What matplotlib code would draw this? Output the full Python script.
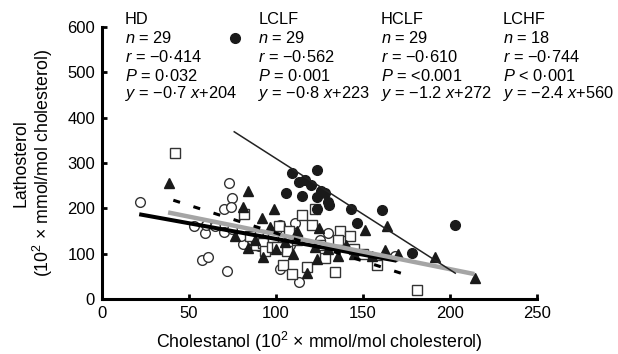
import matplotlib
matplotlib.use("Agg")
import matplotlib.pyplot as plt

plt.rcParams['font.family'] = ['Liberation Sans', 'DejaVu Sans']
plt.rcParams['mathtext.fontset'] = 'custom'
plt.rcParams['mathtext.rm'] = 'Liberation Sans'
plt.rcParams['mathtext.it'] = 'Liberation Sans:italic'

# HD: open circles
hd_x = [21.8, 73.2, 74.5, 70.3, 74, 53, 59, 60, 70.3, 74.5, 57.6, 60.7, 71.7, 81.2,
        102.5, 113.5, 102.3, 111, 125, 168.4, 86, 90, 95, 80, 65, 100, 108, 130, 145]
hd_y = [213, 257, 223, 198.5, 202, 160, 145, 163, 148, 154, 85, 92, 62.5, 121,
        67, 37, 163, 167, 130, 95, 130, 118, 140, 140, 160, 150, 120, 145, 110]
# LCLF: filled triangles
lclf_x = [38.5, 84, 81.2, 91.8, 98.9, 76.4, 84, 92.4, 96.6, 112, 117.6, 123.4, 124.9, 151,
          163.6, 162.6, 135.8, 122.4, 191.4, 214.4, 105, 110, 130, 140, 145, 88, 100, 155, 170]
lclf_y = [257, 238, 204, 178, 199, 139, 113, 92, 158, 150, 58, 88, 156, 152,
          160, 108, 95, 115, 93, 47, 125, 100, 110, 120, 100, 130, 110, 95, 100]
# HCLF: open squares
hclf_x = [42, 81.5, 88.5, 92.7, 93.7, 97.5, 101.5, 106.5, 104, 109, 118, 115, 120.5, 107.6,
          122.4, 136.8, 142.5, 135.8, 128.2, 133.9, 157.9, 180.9, 98, 100.4, 112, 85, 125, 145, 150]
hclf_y = [323, 188, 120, 123, 106, 115, 161, 106, 75, 55, 71, 186, 163, 151,
          198, 151, 138, 130, 90, 60, 75, 20, 136, 114, 130, 140, 120, 110, 100]
# LCHF: filled circles
lchf_x = [109, 123.4, 116.7, 120, 105.7, 114.8, 123.4, 128, 130, 130.7, 123.4, 143,
          146.7, 160.7, 178, 203, 126, 113]
lchf_y = [277, 284.6, 262.5, 251.5, 233, 228, 224, 233, 214.6, 207, 198.5, 198,
          168, 196, 101, 163, 238, 258]

# regression line end points as drawn
hd_line = ([21.4, 169.3], [187, 84.5])
lclf_line = ([38, 214], [191, 55])
hclf_line = ([41, 179], [218, 48])
lchf_line = ([76, 203], [369, 57])

groups = ["HD", "LCLF", "HCLF", "LCHF"]
n_vals = ["29", "29", "29", "18"]
r_vals = ["\u22120\u00b7414", "\u22120\u00b7562", "\u22120\u00b7610", "\u22120\u00b7744"]
p_vals = ["$P$ = 0\u00b7032", "$P$ = 0\u00b7001", "$P$ = <0.001", "$P$ < 0\u00b7001"]
eq_vals = ["\u22120\u00b77", "\u22120\u00b78", "\u22121.2", "\u22122.4"]
eq_ints = ["204", "223", "272", "560"]

fig = plt.figure(figsize=(6.18, 3.54), dpi=100)
ax = fig.add_axes([0.165, 0.1554, 0.704, 0.768])

ms = 7
ax.plot(hd_x, hd_y, 'o', ms=ms, mfc='white', mec='#333333', mew=1.0, ls='none')
ax.plot(hclf_x, hclf_y, 's', ms=ms - 0.5, mfc='white', mec='#333333', mew=1.0, ls='none')
ax.plot(lclf_x, lclf_y, '^', ms=ms, color='#1a1a1a', ls='none')
ax.plot(lchf_x, lchf_y, 'o', ms=ms, color='#1a1a1a', ls='none')

ax.plot(*hd_line, color='black', lw=2.9, solid_capstyle='butt')
ax.plot(*lclf_line, color='#a5a5a5', lw=3.2, solid_capstyle='butt')
ax.plot(*hclf_line, color='black', lw=2.2, ls=(0, (2.3, 4.6)))
ax.plot(*lchf_line, color='#222222', lw=1.1)

ax.set_xlim(0, 250)
ax.set_ylim(0, 600)
ax.set_xticks(range(0, 251, 50))
ax.set_yticks(range(0, 601, 100))
for s in ['top', 'right']:
    ax.spines[s].set_visible(False)
for s in ['left', 'bottom']:
    ax.spines[s].set_linewidth(2.2)
ax.tick_params(direction='in', length=3.5, width=2, labelsize=12, pad=5)

ax.set_xlabel("Cholestanol ($\\mathregular{10^2}$ \u00d7 mmol/mol cholesterol)", fontsize=12.8)
ax.set_ylabel("Lathosterol\n($\\mathregular{10^2}$ \u00d7 mmol/mol cholesterol)", fontsize=12.8,
              linespacing=1.05)
ax.xaxis.set_label_coords(0.5, -0.112)
ax.yaxis.set_label_coords(-0.108, 0.5)

col_x = [0.053, 0.359, 0.641, 0.922]
row_y = [1.029, 0.960, 0.890, 0.822, 0.754]
for i, g in enumerate(groups):
    lines = [g, "$n$ = " + n_vals[i], "$r$ = " + r_vals[i], p_vals[i],
             "$y$ = " + eq_vals[i] + " $x$+" + eq_ints[i]]
    for j, t in enumerate(lines):
        ax.text(col_x[i], row_y[j], t, transform=ax.transAxes, fontsize=11.8,
                ha='left', va='center', clip_on=False)

# legend marker beside the LCLF column
ax.plot([0.305], [0.960], 'o', ms=ms, color='#1a1a1a', transform=ax.transAxes, clip_on=False)

fig.savefig("out.png", dpi=100)
